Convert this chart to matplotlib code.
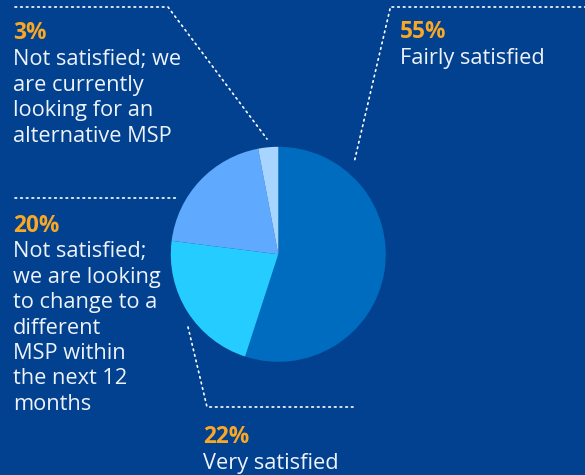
import matplotlib
matplotlib.use("Agg")
import matplotlib.pyplot as plt

# Survey shares, clockwise from 12 o'clock
categories = [
    "Fairly satisfied",
    "Very satisfied",
    "Not satisfied; we are looking to change to a different MSP within the next 12 months",
    "Not satisfied; we are currently looking for an alternative MSP",
]
values = [55, 22, 20, 3]
pct_labels = ["55%", "22%", "20%", "3%"]
label_lines = [
    "Fairly satisfied",
    "Very satisfied",
    "Not satisfied;\nwe are looking\nto change to a\ndifferent\nMSP within\nthe next 12\nmonths",
    "Not satisfied; we\nare currently\nlooking for an\nalternative MSP",
]
slice_colors = ["#006CBF", "#24CCFF", "#5FAAFF", "#A8D5FF"]

BG = "#02418F"
ORANGE = "#F9A825"
TEXT = "#EEF3FA"
W, H = 585, 475

fig = plt.figure(figsize=(W / 100, H / 100), dpi=100, facecolor=BG)
ax = fig.add_axes([0, 0, 1, 1])
ax.set_facecolor(BG)


def py(y):
    # pixel row (top-down) to axes y (bottom-up)
    return H - y


ax.pie(values, colors=slice_colors, startangle=90, counterclock=False,
       center=(278.3, py(254.3)), radius=107.5,
       wedgeprops=dict(linewidth=0), frame=True)
ax.set_xlim(0, W)
ax.set_ylim(0, H)
ax.set_aspect("equal")
ax.axis("off")

# dotted leader lines
leaders = [
    [(392, 7), (585, 7)],
    [(390, 9), (354, 163)],
    [(15, 7), (168, 7), (267, 139)],
    [(15, 198), (178, 198)],
    [(188, 327), (207, 407), (353, 407)],
]
for pts in leaders:
    xs = [p[0] for p in pts]
    ys = [py(p[1]) for p in pts]
    ax.plot(xs, ys, color="white", lw=1.2, ls=(0, (1, 2.4)),
            solid_capstyle="butt", dash_capstyle="round")

font = "Open Sans"
fs = 15.7
fs_pct = 16.3
line_h = 25.5

# (x, baseline of percent, baseline of first text line)
positions = [
    (400, 38, 64),
    (203, 443, 469),
    (13, 232, 257),
    (13, 39, 65),
]
for (x, yp, yt), pct, txt in zip(positions, pct_labels, label_lines):
    ax.text(x, py(yp), pct, color=ORANGE, fontsize=fs_pct, fontweight="bold",
            family=font, va="baseline", ha="left")
    for i, line in enumerate(txt.split("\n")):
        ax.text(x, py(yt + i * line_h), line, color=TEXT, fontsize=fs,
                family=font, va="baseline", ha="left")

fig.savefig("out.png", dpi=100, facecolor=BG)
